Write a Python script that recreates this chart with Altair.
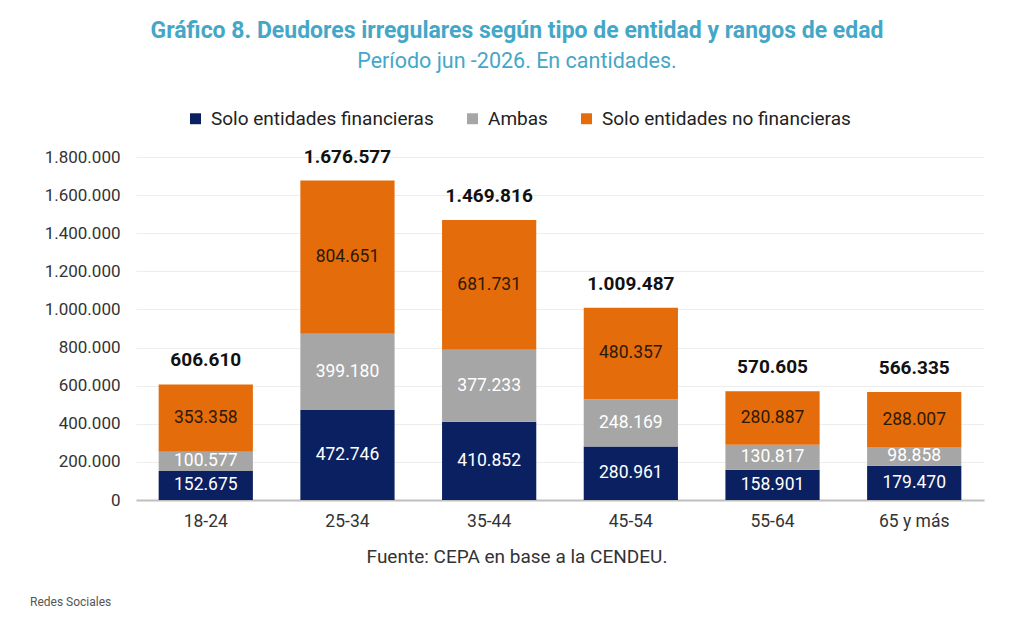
import altair as alt
import pandas as pd

categorias = ["18-24", "25-34", "35-44", "45-54", "55-64", "65 y más"]
series = ["Solo entidades financieras", "Ambas", "Solo entidades no financieras"]
solo_financieras = [152675, 472746, 410852, 280961, 158901, 179470]
ambas = [100577, 399180, 377233, 248169, 130817, 98858]
solo_no_financieras = [353358, 804651, 681731, 480357, 280887, 288007]
ticks_y = [0, 200000, 400000, 600000, 800000, 1000000, 1200000, 1400000, 1600000, 1800000]
colores = ["#0B2060", "#A6A6A6", "#E46C0A"]

rows = []
for i, c in enumerate(categorias):
    for k, (s, vals) in enumerate(zip(series, [solo_financieras, ambas, solo_no_financieras])):
        rows.append({"cat": c, "serie": s, "orden": k, "valor": vals[i]})
df = pd.DataFrame(rows)

FONT = "Roboto"
fmt_expr = "replace(format({v}, ','), /,/g, '.')"

base = alt.Chart(df)

x_axis = alt.Axis(labelAngle=0, labelFontSize=17.5, labelColor="#333333",
                  labelFont=FONT, labelPadding=12, ticks=False,
                  domainColor="#BFBFBF", domainWidth=2, grid=False)
x_scale = alt.Scale(paddingInner=0.335, paddingOuter=0.16)

y_axis = alt.Axis(values=ticks_y,
                  labelExpr=fmt_expr.format(v="datum.value"),
                  labelFontSize=17, labelColor="#333333", labelFont=FONT,
                  labelPadding=16, ticks=False, domain=False, labelOverlap=False,
                  gridColor="#EDEDED", gridWidth=1, title=None)
y_scale = alt.Scale(domain=[0, 1800000], nice=False)

bars = base.mark_bar().encode(
    x=alt.X("cat:N", sort=categorias, title=None, scale=x_scale, axis=x_axis),
    y=alt.Y("sum(valor):Q", title=None, scale=y_scale, axis=y_axis),
    color=alt.Color("serie:N", scale=alt.Scale(domain=series, range=colores),
                    legend=alt.Legend(title=None, orient="none", legendX=50, legendY=-48,
                                      direction="horizontal", symbolType="square",
                                      symbolSize=120, symbolStrokeWidth=0,
                                      labelFontSize=19, labelFont=FONT, labelColor="#222222",
                                      labelLimit=0, columnPadding=29, labelOffset=6)),
    order=alt.Order("orden:Q", sort="ascending"),
)

seg_labels = base.transform_stack(
    stack="valor", groupby=["cat"], as_=["y0", "y1"], sort=[alt.SortField("orden", "ascending")]
).transform_calculate(
    mid="(datum.y0 + datum.y1) / 2",
    lbl=fmt_expr.format(v="datum.valor"),
).mark_text(fontSize=17.5, font=FONT, baseline="middle").encode(
    x=alt.X("cat:N", sort=categorias, title=None, scale=x_scale, axis=x_axis),
    y=alt.Y("mid:Q", title=None, scale=y_scale, axis=y_axis),
    text="lbl:N",
    color=alt.condition(alt.datum.serie == "Solo entidades no financieras",
                        alt.value("#2E1A08"), alt.value("white")),
)

totals = base.transform_aggregate(
    total="sum(valor)", groupby=["cat"]
).transform_calculate(
    lbl=fmt_expr.format(v="datum.total")
).mark_text(fontSize=19, font=FONT, fontWeight="bold", dy=-24, color="#111111",
            baseline="middle").encode(
    x=alt.X("cat:N", sort=categorias, title=None, scale=x_scale, axis=x_axis),
    y=alt.Y("total:Q", title=None, scale=y_scale, axis=y_axis),
    text="lbl:N",
)

fuente = alt.Chart(pd.DataFrame({"t": ["Fuente: CEPA en base a la CENDEU."]})).mark_text(
    fontSize=19, font=FONT, color="#333333", align="center", baseline="middle"
).encode(x=alt.value(381), y=alt.value(400), text="t:N")

redes = alt.Chart(pd.DataFrame({"t": ["Redes Sociales"]})).mark_text(
    fontSize=12, font=FONT, color="#555555", align="left", baseline="bottom"
).encode(x=alt.value(-106), y=alt.value(452), text="t:N")

chart = alt.layer(bars, seg_labels, totals, fuente, redes).properties(
    width=848, height=343,
    title=alt.TitleParams(
        text="Gráfico 8. Deudores irregulares según tipo de entidad y rangos de edad",
        subtitle="Período jun -2026. En cantidades.",
        anchor="middle", frame="group", dx=-43,
        font=FONT, fontSize=23, fontWeight="bold", color="#45A7C8",
        subtitleFont=FONT, subtitleFontSize=21.5, subtitleColor="#45A7C8",
        subtitlePadding=8, offset=37,
    ),
    autosize=alt.AutoSizeParams(type="none"),
    padding={"left": 128, "top": 149, "right": 25, "bottom": 110},
).configure_view(stroke=None)

chart.save("out.html", embed_options={"renderer": "svg", "actions": False})
